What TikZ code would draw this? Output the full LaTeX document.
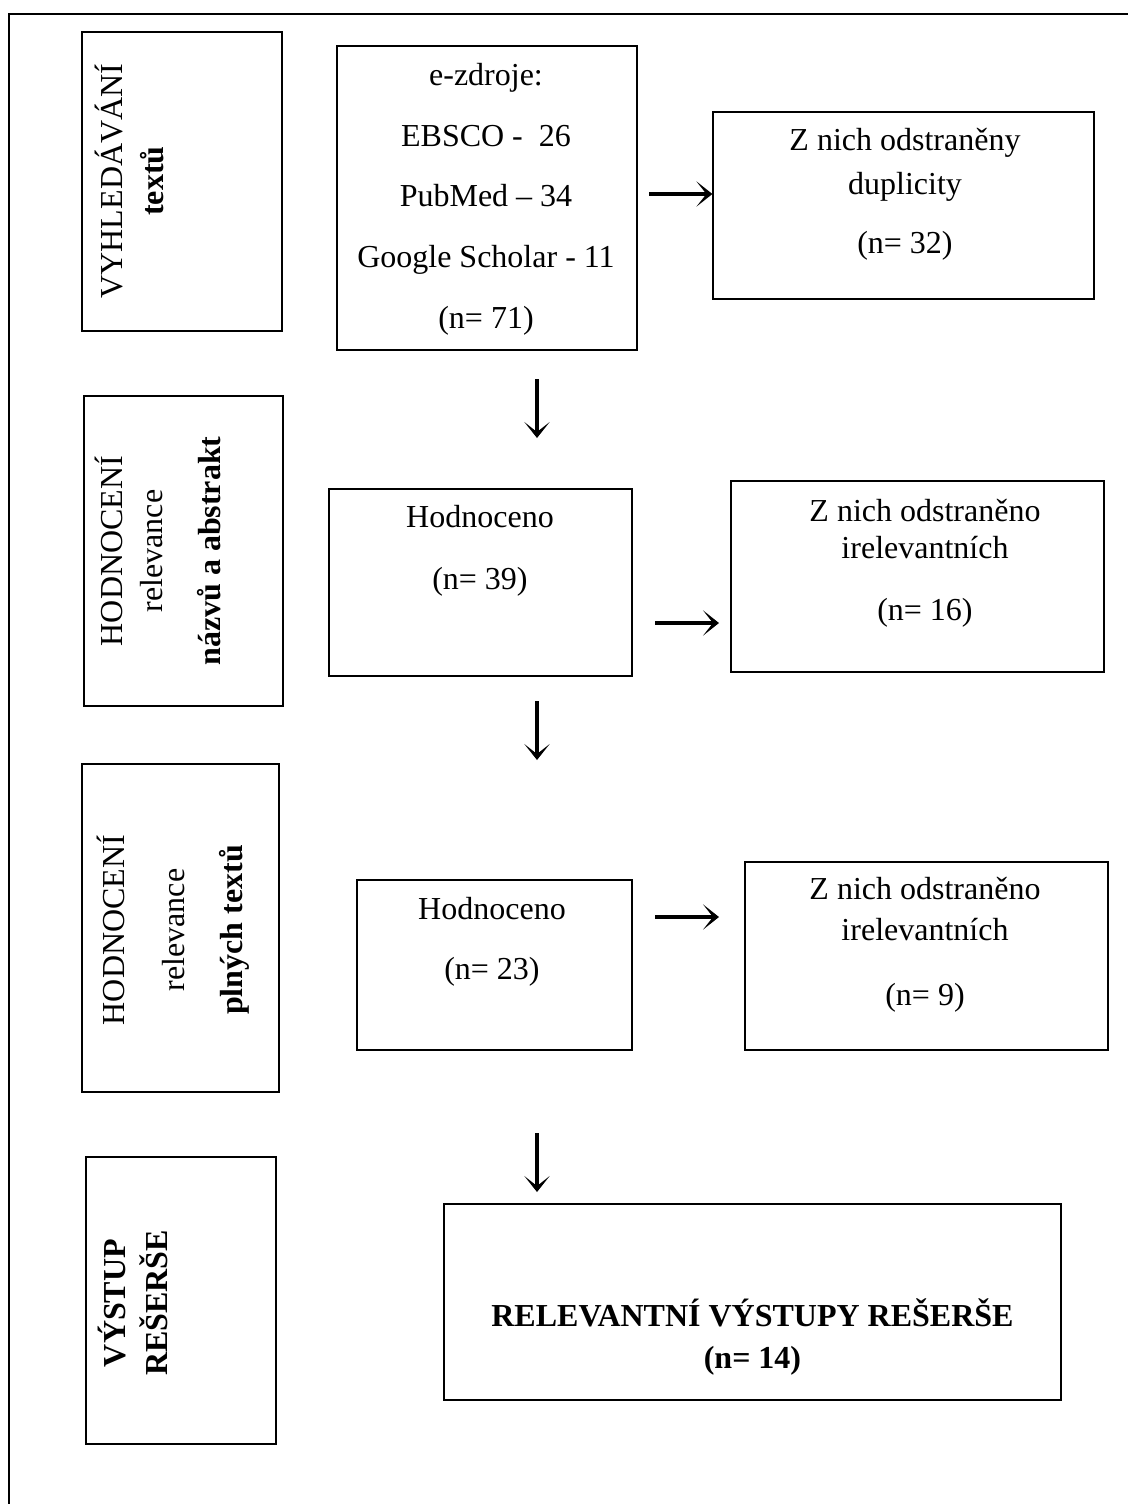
\documentclass[tikz,border=0pt]{standalone}
\usepackage{fontspec}
\setmainfont{Liberation Serif}
\usetikzlibrary{arrows.meta}
\begin{document}
\begin{tikzpicture}[x=0.75pt,y=-0.75pt,
  box/.style={draw, line width=0.9pt, inner sep=0pt},
  txt/.style={inner sep=0pt, align=center, anchor=base},
  arr/.style={line width=2.4pt, -{Stealth[length=12pt,width=19pt,inset=7.5pt]}}]
\useasboundingbox (0,0) rectangle (1128,1504);
\draw[line width=1.5pt] (9,1504) -- (9,14) -- (1128,14);

% left stage boxes
\node[box, minimum width=150pt,    minimum height=224.25pt] (L1) at (182,181.5) {};
\node[box, minimum width=149.25pt, minimum height=232.5pt]  (L2) at (183.5,551) {};
\node[box, minimum width=147.75pt, minimum height=246pt]    (L3) at (180.5,928) {};
\node[box, minimum width=142.5pt,  minimum height=215.25pt] (L4) at (181,1300.5) {};

% main boxes
\node[box, minimum width=225pt,    minimum height=228pt]    (ez)  at (487,198) {};
\node[box, minimum width=285.75pt, minimum height=140.25pt] (dup) at (903.5,205.5) {};
\node[box, minimum width=227.25pt, minimum height=140.25pt] (h1)  at (480.5,582.5) {};
\node[box, minimum width=279.75pt, minimum height=143.25pt] (i1)  at (917.5,576.5) {};
\node[box, minimum width=206.25pt, minimum height=127.5pt]  (h2)  at (494.5,965) {};
\node[box, minimum width=272.25pt, minimum height=141pt]    (i2)  at (926.5,956) {};
\node[box, minimum width=462.75pt, minimum height=147pt]    (fin) at (752.5,1302) {};

% rotated texts (anchor = baseline of last line)
\node[txt, rotate=90, font=\fontsize{24}{30.75}\selectfont] (L1t) at (163,181)
  {VYHLEDÁVÁNÍ\\\textbf{textů}};
\node[txt, rotate=90, font=\fontsize{24}{30}\selectfont] (L2t) at (220,551)
  {HODNOCENÍ\\relevance\\[13pt]\textbf{názvů a abstrakt}};
\node[txt, rotate=90, font=\fontsize{24}{45}\selectfont] (L3t) at (242,930)
  {HODNOCENÍ\\relevance\\[-2pt]\textbf{plných textů}};
\node[txt, rotate=90, font=\fontsize{24}{31.5}\selectfont\bfseries] (L4t) at (167,1303)
  {VÝSTUP\\REŠERŠE};

% main texts (anchor = baseline of last line)
\node[txt, font=\fontsize{24}{45.5}\selectfont] (ezt) at (486,328)
  {e-zdroje:\\EBSCO -\ \ 26\\PubMed – 34\\Google Scholar - 11\\(n= 71)};
\node[txt, font=\fontsize{24}{33}\selectfont] (dupt) at (905,253)
  {Z nich odstraněny\\duplicity\\[11pt](n= 32)};
\node[txt, font=\fontsize{24}{46.5}\selectfont] (h1t) at (480,589)
  {Hodnoceno\\(n= 39)};
\node[txt, font=\fontsize{24}{27.75}\selectfont] (i1t) at (925,620)
  {Z nich odstraněno\\irelevantních\\[18.75pt](n= 16)};
\node[txt, font=\fontsize{24}{45}\selectfont] (h2t) at (492,979)
  {Hodnoceno\\(n= 23)};
\node[txt, font=\fontsize{24}{30.75}\selectfont] (i2t) at (925,1005)
  {Z nich odstraněno\\irelevantních\\[18pt](n= 9)};
\node[txt, font=\fontsize{24}{31.5}\selectfont\bfseries] (fint) at (752.5,1368)
  {RELEVANTNÍ VÝSTUPY REŠERŠE\\(n= 14)};

% arrows
\coordinate (a1) at (649,194);
\coordinate (a2) at (655,623);
\coordinate (a3) at (655,917);
\coordinate (a2e) at (719,623);
\coordinate (a3e) at (719,917);
\coordinate (d1s) at (537,379);
\coordinate (d1e) at (537,438);
\coordinate (d2s) at (537,701);
\coordinate (d2e) at (537,760);
\coordinate (d3s) at (537,1133);
\coordinate (d3e) at (537,1192);
\draw[arr] (a1) -- (a1 -| dup.west);
\draw[arr] (a2) -- (a2e);
\draw[arr] (a3) -- (a3e);
\draw[arr] (d1s) -- (d1e);
\draw[arr] (d2s) -- (d2e);
\draw[arr] (d3s) -- (d3e);
\end{tikzpicture}
\end{document}
